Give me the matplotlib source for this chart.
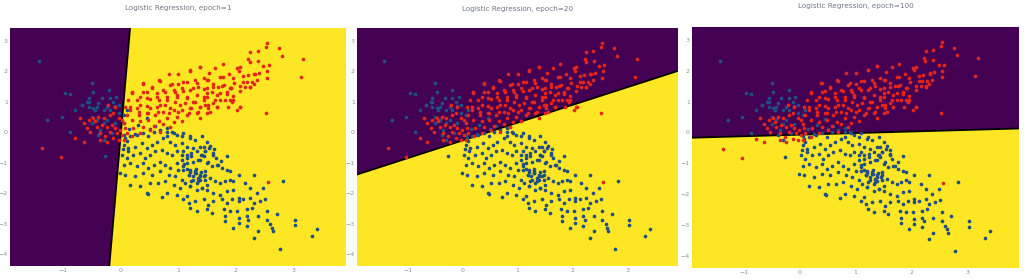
import numpy as np
import matplotlib.pyplot as plt

# training epochs shown in the three panels
epochs = [1, 20, 100]

# linear decision function per epoch: w_x*x + w_y*y + b > 0 -> yellow region
w_x = [1.0, 0.580, 0.051]
w_y = [-0.0464, -1.0, -1.0]
bias = [-0.002, -0.266, -0.070]

# class 0 (red) samples
red_points = [
    (2.54, 2.93), (2.52, 2.79), (2.38, 2.66), (2.25, 2.63), (2.75, 2.74), (2.81, 2.49),
    (3.18, 2.40), (2.22, 2.41), (2.24, 2.30), (2.39, 2.33), (2.48, 2.18), (2.55, 1.99),
    (3.14, 1.82), (2.58, 2.19), (2.07, 2.12), (1.77, 2.22), (2.21, 1.87), (2.33, 1.89),
    (2.40, 1.94), (2.54, 1.78), (2.13, 1.65), (2.28, 1.65), (2.25, 1.49), (1.97, 1.62),
    (1.77, 1.79), (1.92, 1.43), (2.07, 1.36), (2.16, 1.49), (1.96, 1.18), (2.07, 0.84),
    (1.93, 1.00), (2.52, 0.62), (1.54, 1.94), (1.50, 1.70), (1.61, 1.59), (1.70, 1.49),
    (1.79, 1.54), (1.58, 1.32), (1.73, 1.27), (1.84, 1.32), (1.50, 1.16), (1.64, 1.05),
    (1.81, 1.05), (1.47, 0.89), (1.67, 0.84), (1.55, 0.67), (2.02, 0.73), (2.56, -1.62),
    (1.21, 2.01), (1.38, 2.14), (1.64, 2.11), (2.03, 2.09), (2.05, 2.01), (1.88, 1.90),
    (1.73, 1.79), (1.52, 1.71), (1.32, 1.60), (1.15, 1.65), (1.00, 1.58), (0.86, 1.54),
    (0.68, 1.68), (0.38, 1.60), (0.54, 1.47), (1.96, 1.76), (2.13, 1.84), (2.32, 1.92),
    (2.19, 1.65), (2.37, 1.71), (2.31, 1.58), (2.08, 1.51), (2.25, 1.47), (1.90, 1.43),
    (1.76, 1.51), (1.61, 1.47), (1.44, 1.40), (1.26, 1.43), (1.09, 1.36), (0.92, 1.38),
    (0.77, 1.33), (0.63, 1.27), (0.45, 1.33), (0.19, 1.32), (0.34, 1.16), (0.51, 1.08),
    (0.66, 1.05), (0.80, 1.16), (0.97, 1.22), (1.15, 1.16), (1.32, 1.22), (1.50, 1.27),
    (1.67, 1.22), (1.84, 1.24), (1.90, 1.05), (1.73, 1.05), (1.61, 0.95), (1.44, 1.05),
    (1.26, 1.00), (1.12, 0.95), (0.94, 1.00), (0.77, 0.89), (0.63, 0.84), (0.45, 0.86),
    (0.28, 0.78), (0.16, 0.73), (0.31, 0.57), (0.45, 0.62), (0.60, 0.57), (0.74, 0.67),
    (0.92, 0.73), (1.06, 0.73), (1.23, 0.78), (1.38, 0.84), (1.52, 0.78), (1.67, 0.84),
    (1.86, 0.84), (2.08, 0.84), (1.95, 1.05), (1.32, 0.62), (1.15, 0.57), (0.97, 0.51),
    (0.80, 0.46), (0.66, 0.35), (0.48, 0.40), (0.34, 0.35), (0.19, 0.40), (0.10, 0.57),
    (0.22, 0.13), (0.39, 0.18), (0.57, 0.21), (0.74, 0.27), (0.92, 0.32), (1.06, 0.38),
    (1.38, 0.46), (0.13, 1.05), (0.08, 0.84), (0.06, 0.29), (0.51, 0.08), (0.68, 0.02),
    (0.86, 0.18), (0.34, -0.03), (0.20, -0.14),
    (0.83, 1.92), (1.00, 1.92), (1.21, 2.03), (1.38, 2.14), (0.39, 1.59), (0.66, 1.70),
    (0.89, 1.59), (1.09, 1.65), (1.29, 1.70), (1.44, 1.76), (0.19, 1.27), (0.39, 1.32),
    (0.54, 1.43), (0.74, 1.38), (0.94, 1.32), (1.06, 1.43), (1.21, 1.38), (1.35, 1.49),
    (1.50, 1.43), (0.28, 1.05), (0.45, 1.11), (0.63, 1.16), (0.80, 1.05), (0.97, 1.16),
    (1.15, 1.11), (1.29, 1.00), (1.44, 1.16), (0.16, 0.84), (0.34, 0.89), (0.51, 0.78),
    (0.68, 0.89), (0.86, 0.78), (1.03, 0.89), (1.21, 0.78), (1.38, 0.84), (1.52, 0.89),
    (0.31, 0.67), (0.48, 0.62), (0.65, 0.67), (0.83, 0.62), (1.00, 0.67), (1.18, 0.62),
    (1.35, 0.67), (1.50, 0.62),
    (-0.71, 0.46), (-0.65, 0.29), (-0.56, 0.40), (-0.48, 0.46), (-0.39, 0.51), (-0.30, 0.46),
    (-0.19, 0.56), (-0.13, 0.62), (-0.22, 0.89), (-0.10, 0.83), (-0.04, 0.46), (0.02, 0.40),
    (-0.42, 0.18), (-0.33, 0.24), (-0.24, 0.18), (-0.16, 0.24), (-0.10, 0.13), (-0.01, 0.07),
    (0.07, 0.13), (-0.53, 0.02), (-0.36, -0.03), (-0.27, -0.14), (-0.19, 0.02), (-0.07, -0.03),
    (0.02, -0.09), (0.10, -0.03), (-0.79, -0.20), (-0.65, -0.31), (-0.36, -0.25), (-0.24, -0.31),
    (-0.13, -0.20), (-0.04, -0.25), (0.05, -0.25), (-1.37, -0.52), (-1.04, -0.81), (-0.45, 0.35),
    (-0.59, 0.13),
]

# class 1 (blue) samples
blue_points = [
    (-1.43, 2.32), (-0.50, 1.60), (-0.97, 1.29), (-0.88, 1.24), (-0.48, 1.32), (-0.20, 1.38),
    (-0.56, 1.11), (-0.33, 1.11), (-0.08, 1.16), (-0.68, 0.89), (-0.56, 1.00), (-0.48, 0.78),
    (-0.42, 0.83), (-0.30, 0.73), (-0.24, 0.83), (-0.13, 1.00), (-0.11, 0.85), (-0.19, 1.11),
    (-1.29, 0.40), (-1.03, 0.51), (-0.88, -0.01), (-0.79, 0.73), (-0.68, 0.89), (-0.56, 0.83),
    (-0.59, 1.00), (-0.45, 0.73), (-0.39, 0.94), (-0.50, 0.51), (-0.42, 0.40), (-0.50, 0.29),
    (-0.36, 0.07), (-0.30, 0.29), (-0.24, 0.40), (-0.30, -0.25), (-0.16, -0.03), (-0.10, 0.29),
    (-0.04, 0.62), (-0.04, 0.89), (-0.27, -0.79), (-0.19, 0.73), (-0.39, -0.09), (0.05, 0.56),
    (0.05, 0.29), (0.10, 0.73),
    (0.45, 0.45), (0.30, 0.25), (0.60, 0.20), (0.15, 0.10), (0.25, -0.05), (0.50, 0.10),
    (0.05, -0.10), (0.10, -0.30), (0.03, -0.55), (0.12, -0.62), (-0.02, -1.34), (1.91, 1.45),
    (0.07, -0.20), (0.16, -0.14), (0.28, -0.09), (0.39, -0.03), (0.48, -0.14), (0.57, 0.02),
    (0.68, 0.07), (0.80, 0.13), (0.89, 0.02), (0.97, -0.09), (1.09, -0.03), (1.20, -0.20),
    (1.29, -0.25), (1.41, -0.14), (1.50, -0.31),
    (0.05, -0.41), (0.13, -0.52), (0.25, -0.47), (0.36, -0.36), (0.45, -0.52), (0.54, -0.41),
    (0.63, -0.31), (0.74, -0.20), (0.86, -0.31), (0.94, -0.41), (1.06, -0.36), (1.15, -0.47),
    (1.26, -0.52), (1.38, -0.47), (1.47, -0.63),
    (0.02, -0.74), (0.10, -0.85), (0.22, -0.74), (0.34, -0.69), (0.42, -0.85), (0.51, -0.74),
    (0.60, -0.63), (0.71, -0.58), (0.80, -0.69), (0.89, -0.74), (0.97, -0.63), (1.06, -0.74),
    (1.15, -0.85), (1.23, -0.79), (1.35, -0.90), (1.44, -0.79), (1.52, -0.96),
    (0.05, -1.07), (0.16, -1.01), (0.28, -1.12), (0.39, -1.01), (0.48, -1.17), (0.57, -1.07),
    (0.68, -0.96), (0.77, -1.07), (0.86, -1.17), (0.97, -1.01), (1.09, -1.12), (1.20, -1.23),
    (1.29, -1.28), (1.38, -1.39), (1.47, -1.28),
    (0.07, -1.39), (0.25, -1.45), (0.39, -1.34), (0.54, -1.39), (0.68, -1.28), (0.83, -1.39),
    (0.94, -1.45), (1.06, -1.55), (1.18, -1.39), (1.26, -1.55), (1.35, -1.61), (1.47, -1.55),
    (1.50, -1.72),
    (0.16, -1.72), (0.34, -1.77), (0.51, -1.66), (0.65, -1.66), (0.77, -1.61), (0.92, -1.72),
    (1.03, -1.83), (1.20, -1.77), (1.32, -1.88), (1.41, -1.83),
    (0.45, -1.99), (0.80, -1.99), (0.97, -2.04), (1.15, -2.10), (0.47, -2.02), (0.71, -2.12),
    (1.44, -0.47), (1.54, -0.52), (1.61, -0.68), (1.40, -0.74), (1.21, -0.14), (1.06, -0.14),
    (0.92, -0.03), (0.80, 0.02), (0.80, -0.14), (1.70, -1.07), (1.65, -0.85), (1.75, -0.95),
    (1.55, -0.45), (1.62, -0.55),
    (1.20, -1.30), (1.25, -1.45), (1.30, -1.35), (1.35, -1.50), (1.40, -1.30), (1.45, -1.45),
    (1.15, -1.20), (1.30, -1.20), (1.22, -1.60), (1.38, -1.58), (1.00, -1.25), (1.10, -1.05),
    (1.09, -0.63), (1.15, -0.74), (1.23, -0.69), (1.32, -0.63), (1.41, -0.74), (1.47, -0.63),
    (1.61, -0.74), (1.84, -0.77), (1.06, -0.90), (1.15, -1.01), (1.26, -0.96), (1.38, -0.90),
    (1.50, -1.01), (1.58, -1.12), (1.67, -1.07), (1.76, -1.17), (1.84, -1.23), (1.90, -1.28),
    (1.09, -1.23), (1.18, -1.39), (1.29, -1.34), (1.38, -1.45), (1.47, -1.39), (1.55, -1.50),
    (1.64, -1.61), (1.73, -1.66), (1.81, -1.61), (1.90, -1.55), (1.96, -1.61), (2.05, -1.39),
    (2.31, -1.39), (1.12, -1.66), (1.20, -1.77), (1.32, -1.66), (1.41, -1.83), (1.50, -1.88),
    (1.61, -1.99), (1.73, -2.04), (1.84, -1.93), (1.96, -1.88), (2.05, -2.15), (2.16, -1.66),
    (2.25, -1.83), (2.37, -1.99), (2.48, -1.83), (2.82, -1.61),
    (1.09, -2.20), (1.18, -2.31), (1.29, -2.26), (1.44, -2.20), (1.52, -2.37), (1.61, -2.26),
    (1.76, -2.20), (1.84, -2.31), (1.93, -2.20), (2.05, -2.26), (2.13, -2.20), (2.25, -2.15),
    (2.31, -2.31), (2.42, -2.26), (2.51, -2.18),
    (1.21, -2.48), (1.32, -2.58), (1.50, -2.53), (1.58, -2.64), (1.79, -2.53), (1.90, -2.58),
    (2.02, -2.58), (2.19, -2.53), (2.28, -2.48), (2.39, -2.75), (2.54, -2.58), (2.71, -2.69),
    (1.81, -2.75), (2.05, -2.80), (2.19, -2.75), (2.22, -2.86), (2.54, -2.86), (2.63, -3.13),
    (3.03, -2.86), (3.03, -3.05), (3.41, -3.18), (1.81, -2.91), (1.96, -3.13), (2.05, -2.97),
    (2.19, -3.07), (2.39, -3.24), (2.60, -3.02), (2.65, -3.24), (2.31, -3.45), (2.77, -3.83),
    (3.32, -3.40),
]

x_ticks = [-1, 0, 1, 2, 3]
y_ticks = [-4, -3, -2, -1, 0, 1, 2, 3]
x_range = (-1.93, 3.92)
y_range = (-4.38, 3.41)

purple = '#440154'
yellow = '#fde725'
red = '#e4261a'
blue = '#1f4f86'
grey = '#8a8f99'

red_arr = np.array(red_points)
blue_arr = np.array(blue_points)

fig = plt.figure(figsize=(10.24, 2.79), dpi=100)
# panels were captured separately, so the boxes differ a little
boxes = [
    [10 / 1024, 13 / 279, 336 / 1024, 238 / 279],
    [357 / 1024, 13 / 279, 321 / 1024, 238 / 279],
    [692 / 1024, 11 / 279, 327 / 1024, 241 / 279],
]
title_pad = [13, 12, 14]

xx, yy = np.meshgrid(np.linspace(x_range[0], x_range[1], 700),
                     np.linspace(y_range[0], y_range[1], 700))

for i, ep in enumerate(epochs):
    ax = fig.add_axes(boxes[i])
    z = w_x[i] * xx + w_y[i] * yy + bias[i]
    ax.contourf(xx, yy, z, levels=[z.min() - 1, 0, z.max() + 1],
                colors=[purple, yellow])
    ax.contour(xx, yy, z, levels=[0], colors='black', linewidths=1.3)
    ax.scatter(blue_arr[:, 0], blue_arr[:, 1], s=7, c=blue, linewidths=0, zorder=3)
    ax.scatter(red_arr[:, 0], red_arr[:, 1], s=7, c=red, linewidths=0, zorder=3)
    ax.set_xlim(x_range)
    ax.set_ylim(y_range)
    ax.set_xticks(x_ticks)
    ax.set_yticks(y_ticks)
    ax.tick_params(length=0, labelsize=4.5, colors=grey, pad=1.5)
    for s in ax.spines.values():
        s.set_visible(False)
    ax.set_title('Logistic Regression, epoch=%d' % ep, fontsize=5.2,
                 color='#6f7785', pad=title_pad[i])

fig.savefig('out.png', dpi=100)
